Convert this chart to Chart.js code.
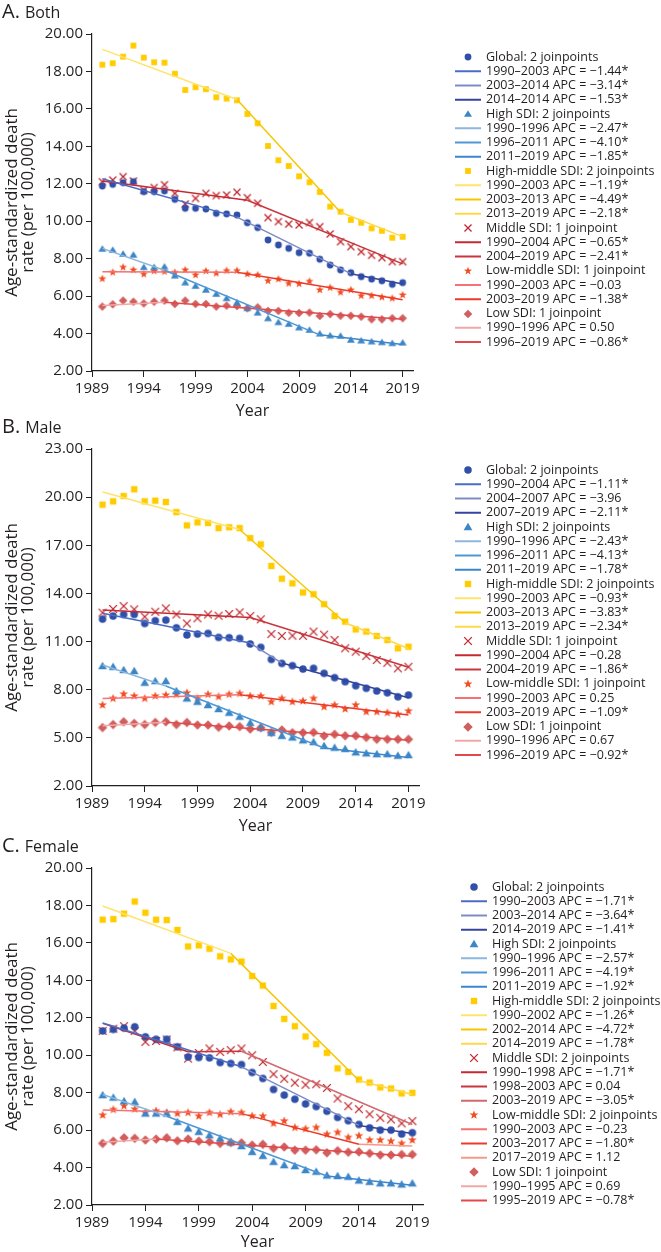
<!DOCTYPE html>
<html>
<head>
<meta charset="utf-8">
<script src="https://cdn.jsdelivr.net/npm/chart.js@4.4.1/dist/chart.umd.min.js"></script>
<style>
html, body { margin: 0; padding: 0; background: #fff; }
#wrap { position: relative; width: 661px; height: 1252px; overflow: hidden; }
.panel { position: absolute; left: 0; }
</style>
</head>
<body>
<div id="wrap">
  <canvas id="chartA" class="panel" style="top:0" width="661" height="421"></canvas>
  <canvas id="chartB" class="panel" style="top:400px" width="661" height="436"></canvas>
  <canvas id="chartC" class="panel" style="top:820px" width="661" height="432"></canvas>
</div>
<script>
// years and axis ticks
const years = [1990, 1991, 1992, 1993, 1994, 1995, 1996, 1997, 1998, 1999,
               2000, 2001, 2002, 2003, 2004, 2005, 2006, 2007, 2008, 2009,
               2010, 2011, 2012, 2013, 2014, 2015, 2016, 2017, 2018, 2019];
const xTicks = [1989, 1994, 1999, 2004, 2009, 2014, 2019];
const seriesNames = ['Global', 'High SDI', 'High-middle SDI', 'Middle SDI', 'Low-middle SDI', 'Low SDI'];

// ---- A. Both ----
const bothGlobal = [11.88, 11.97, 12.06, 12.11, 11.58, 11.58, 11.62, 11.17, 10.69, 10.69,
                    10.65, 10.42, 10.39, 10.33, 9.92, 9.66, 9.00, 8.73, 8.55, 8.32,
                    8.29, 7.97, 7.66, 7.40, 7.25, 7.04, 6.91, 6.82, 6.63, 6.72];
const bothHigh = [8.52, 8.46, 8.25, 8.20, 7.54, 7.54, 7.57, 7.09, 6.72, 6.54,
                  6.33, 6.11, 5.88, 5.65, 5.35, 5.11, 4.81, 4.60, 4.51, 4.32,
                  4.19, 3.99, 3.89, 3.87, 3.66, 3.62, 3.57, 3.53, 3.48, 3.51];
const bothHighMid = [18.36, 18.44, 18.79, 19.38, 18.74, 18.49, 18.47, 17.88, 17.01, 17.16,
                     17.05, 16.62, 16.55, 16.46, 15.73, 15.23, 14.02, 13.26, 12.95, 12.40,
                     12.08, 11.56, 10.78, 10.51, 10.07, 9.92, 9.62, 9.49, 9.12, 9.17];
const bothMiddle = [12.11, 12.20, 12.38, 12.15, 11.65, 11.80, 11.95, 11.49, 10.92, 11.22,
                    11.49, 11.37, 11.40, 11.55, 11.26, 10.96, 10.19, 9.98, 9.85, 9.80,
                    9.93, 9.71, 9.32, 8.91, 8.64, 8.37, 8.18, 8.05, 7.84, 7.84];
const bothLowMid = [6.93, 7.27, 7.54, 7.40, 7.17, 7.34, 7.31, 7.26, 7.40, 7.13,
                    7.34, 7.22, 7.36, 7.36, 7.18, 7.13, 6.82, 6.91, 6.68, 6.66,
                    6.79, 6.33, 6.45, 6.20, 6.33, 6.02, 6.02, 5.94, 5.88, 6.06];
const bothLow = [5.44, 5.56, 5.76, 5.70, 5.61, 5.70, 5.76, 5.58, 5.76, 5.58,
                 5.58, 5.44, 5.49, 5.47, 5.35, 5.40, 5.21, 5.21, 5.11, 5.10,
                 5.12, 4.94, 5.04, 4.95, 4.95, 4.90, 4.76, 4.76, 4.82, 4.82];
const bothJoinYears = [[1990, 2003, 2014, 2019], [1990, 1996, 2011, 2019], [1990, 2003, 2013, 2019],
                       [1990, 2004, 2019], [1990, 2003, 2019], [1990, 1996, 2019]];
const bothJoinVals = [[12.27, 10.22, 7.20, 6.65], [8.55, 7.38, 3.93, 3.42], [19.18, 16.50, 10.48, 9.18],
                      [12.15, 11.12, 7.72], [7.30, 7.27, 5.80], [5.50, 5.67, 4.77]];
const bothHeaders = ['Global: 2 joinpoints', 'High SDI: 2 joinpoints', 'High-middle SDI: 2 joinpoints',
                     'Middle SDI: 1 joinpoint', 'Low-middle SDI: 1 joinpoint', 'Low SDI: 1 joinpoint'];
const bothSegLabels = [
  ['1990–2003 APC = −1.44*', '2003–2014 APC = −3.14*', '2014–2014 APC = −1.53*'],
  ['1990–1996 APC = −2.47*', '1996–2011 APC = −4.10*', '2011–2019 APC = −1.85*'],
  ['1990–2003 APC = −1.19*', '2003–2013 APC = −4.49*', '2013–2019 APC = −2.18*'],
  ['1990–2004 APC = −0.65*', '2004–2019 APC = −2.41*'],
  ['1990–2003 APC = −0.03', '2003–2019 APC = −1.38*'],
  ['1990–1996 APC = 0.50', '1996–2019 APC = −0.86*']
];

// ---- B. Male ----
const maleGlobal = [12.40, 12.59, 12.69, 12.69, 12.13, 12.30, 12.34, 11.86, 11.41, 11.47,
                    11.51, 11.26, 11.24, 11.20, 10.85, 10.64, 9.89, 9.64, 9.50, 9.29,
                    9.33, 9.02, 8.75, 8.50, 8.25, 8.09, 7.92, 7.81, 7.56, 7.67];
const maleHigh = [9.48, 9.43, 9.23, 9.17, 8.44, 8.54, 8.54, 7.92, 7.46, 7.25,
                  7.05, 6.80, 6.57, 6.32, 5.94, 5.63, 5.32, 5.13, 5.03, 4.85,
                  4.74, 4.50, 4.39, 4.31, 4.10, 4.04, 3.99, 3.99, 3.89, 3.93];
const maleHighMid = [19.53, 19.74, 20.07, 20.49, 19.74, 19.78, 19.70, 19.07, 18.24, 18.43,
                     18.39, 18.07, 18.12, 18.07, 17.45, 17.06, 15.71, 14.92, 14.63, 14.06,
                     13.95, 13.33, 12.59, 12.24, 11.76, 11.62, 11.35, 11.10, 10.58, 10.68];
const maleMiddle = [12.80, 13.03, 13.21, 13.01, 12.55, 12.86, 13.07, 12.69, 12.13, 12.45,
                    12.69, 12.61, 12.72, 12.82, 12.59, 12.39, 11.47, 11.35, 11.37, 11.36,
                    11.62, 11.43, 11.10, 10.58, 10.37, 10.10, 9.85, 9.68, 9.33, 9.43];
const maleLowMid = [7.05, 7.46, 7.73, 7.61, 7.46, 7.61, 7.67, 7.71, 7.81, 7.46,
                    7.71, 7.57, 7.71, 7.77, 7.61, 7.61, 7.25, 7.46, 7.25, 7.30,
                    7.46, 6.94, 7.05, 6.80, 7.05, 6.63, 6.63, 6.57, 6.47, 6.67];
const maleLow = [5.64, 5.83, 6.00, 5.90, 5.83, 5.96, 6.00, 5.83, 5.96, 5.80,
                 5.80, 5.66, 5.74, 5.70, 5.55, 5.63, 5.34, 5.49, 5.32, 5.32,
                 5.34, 5.12, 5.22, 5.13, 5.13, 5.03, 4.91, 4.91, 4.91, 4.91];
const maleJoinYears = [[1990, 2004, 2007, 2019], [1990, 1996, 2011, 2019], [1990, 2003, 2013, 2019],
                       [1990, 2004, 2019], [1990, 2003, 2019], [1990, 1996, 2019]];
const maleJoinVals = [[12.76, 10.91, 9.66, 7.50], [9.54, 8.23, 4.37, 3.78], [20.32, 17.98, 12.17, 10.57],
                      [12.97, 12.50, 9.40], [7.45, 7.69, 6.43], [5.75, 5.98, 4.85]];
const maleHeaders = ['Global: 2 joinpoints', 'High SDI: 2 joinpoints', 'High-middle SDI: 2 joinpoints',
                     'Middle SDI: 1 joinpoint', 'Low-middle SDI: 1 joinpoint', 'Low SDI: 1 joinpoint'];
const maleSegLabels = [
  ['1990–2004 APC = −1.11*', '2004–2007 APC = −3.96', '2007–2019 APC = −2.11*'],
  ['1990–1996 APC = −2.43*', '1996–2011 APC = −4.13*', '2011–2019 APC = −1.78*'],
  ['1990–2003 APC = −0.93*', '2003–2013 APC = −3.83*', '2013–2019 APC = −2.34*'],
  ['1990–2004 APC = −0.28', '2004–2019 APC = −1.86*'],
  ['1990–2003 APC = 0.25', '2003–2019 APC = −1.09*'],
  ['1990–1996 APC = 0.67', '1996–2019 APC = −0.92*']
];

// ---- C. Female ----
const femaleGlobal = [11.30, 11.38, 11.45, 11.52, 10.98, 10.85, 10.85, 10.45, 9.91, 9.88,
                      9.86, 9.61, 9.56, 9.50, 9.08, 8.76, 8.17, 7.87, 7.65, 7.40,
                      7.26, 7.01, 6.68, 6.50, 6.30, 6.12, 6.00, 6.00, 5.79, 5.86];
const femaleHigh = [7.87, 7.74, 7.55, 7.51, 6.89, 6.89, 6.89, 6.44, 6.09, 5.91,
                    5.73, 5.56, 5.34, 5.15, 4.84, 4.63, 4.31, 4.13, 4.08, 3.87,
                    3.78, 3.58, 3.55, 3.51, 3.31, 3.24, 3.16, 3.16, 3.10, 3.16];
const femaleHighMid = [17.24, 17.27, 17.56, 18.21, 17.61, 17.24, 17.22, 16.69, 15.81, 15.87,
                       15.69, 15.28, 15.12, 15.00, 14.23, 13.72, 12.63, 11.94, 11.55, 11.00,
                       10.59, 10.13, 9.30, 9.11, 8.70, 8.54, 8.28, 8.22, 7.96, 7.99];
const femaleMiddle = [11.30, 11.42, 11.55, 11.30, 10.71, 10.76, 10.84, 10.42, 9.82, 10.12,
                      10.36, 10.18, 10.27, 10.36, 10.00, 9.64, 8.99, 8.74, 8.53, 8.42,
                      8.45, 8.25, 7.69, 7.28, 7.12, 6.85, 6.66, 6.57, 6.36, 6.48];
const femaleLowMid = [6.80, 7.10, 7.30, 7.12, 6.94, 7.03, 6.94, 6.89, 6.94, 6.75,
                      6.94, 6.84, 6.98, 6.94, 6.76, 6.75, 6.36, 6.49, 6.14, 6.07,
                      6.14, 5.78, 5.88, 5.61, 5.70, 5.47, 5.47, 5.41, 5.29, 5.47];
const femaleLow = [5.29, 5.41, 5.59, 5.56, 5.47, 5.52, 5.59, 5.43, 5.52, 5.41,
                   5.38, 5.29, 5.34, 5.32, 5.20, 5.24, 5.03, 5.10, 4.93, 4.93,
                   4.95, 4.79, 4.90, 4.82, 4.84, 4.76, 4.67, 4.67, 4.70, 4.70];
const femaleJoinYears = [[1990, 2003, 2014, 2019], [1990, 1996, 2011, 2019], [1990, 2002, 2014, 2019],
                         [1990, 1998, 2003, 2019], [1990, 2003, 2014, 2019], [1990, 1995, 2019]];
const femaleJoinVals = [[11.72, 9.38, 6.25, 5.82], [7.90, 6.74, 3.55, 3.05], [17.97, 15.44, 8.65, 7.90],
                        [11.70, 10.19, 10.21, 6.30], [7.07, 6.88, 5.25, 5.15], [5.35, 5.53, 4.60]];
const femaleHeaders = ['Global: 2 joinpoints', 'High SDI: 2 joinpoints', 'High-middle SDI: 2 joinpoints',
                       'Middle SDI: 2 joinpoints', 'Low-middle SDI: 2 joinpoints', 'Low SDI: 1 joinpoint'];
const femaleSegLabels = [
  ['1990–2003 APC = −1.71*', '2003–2014 APC = −3.64*', '2014–2019 APC = −1.41*'],
  ['1990–1996 APC = −2.57*', '1996–2011 APC = −4.19*', '2011–2019 APC = −1.92*'],
  ['1990–2002 APC = −1.26*', '2002–2014 APC = −4.72*', '2014–2019 APC = −1.78*'],
  ['1990–1998 APC = −1.71*', '1998–2003 APC = 0.04', '2003–2019 APC = −3.05*'],
  ['1990–2003 APC = −0.23', '2003–2017 APC = −1.80*', '2017–2019 APC = 1.12'],
  ['1990–1995 APC = 0.69', '1995–2019 APC = −0.78*']
];

// ---- styles ----
const FONT = "'Open Sans', 'Noto Sans', sans-serif";
const INK = '#231f20';
const markerShapes = ['circle', 'triangle', 'square', 'cross', 'star', 'diamond'];
const markerColors = ['#2f4fa9', '#3d86c6', '#ffcc00', '#c0272d', '#f04e23', '#d0605f'];
const segColors = [
  ['#4a6cc4', '#7d8cc6', '#34449c'],
  ['#8cb6de', '#4d97d6', '#3b86cc'],
  ['#ffe36a', '#f7c600', '#ffd84a'],
  ['#c52a33', '#c8353d', '#d06a6f'],
  ['#f47272', '#ec3b2a', '#f59a8a'],
  ['#f2a7a7', '#e3484a']
];

function markerImg(shape, color, s) {
  const c = document.createElement('canvas');
  const size = Math.ceil(12 * s) + 2;
  c.width = c.height = size;
  const g = c.getContext('2d');
  const m = size / 2;
  g.fillStyle = color;
  g.strokeStyle = color;
  g.beginPath();
  if (shape === 'circle') {
    g.arc(m, m, 3.4 * s, 0, Math.PI * 2); g.fill();
  } else if (shape === 'square') {
    const h = 2.9 * s; g.fillRect(m - h, m - h, 2 * h, 2 * h);
  } else if (shape === 'triangle') {
    const h = 3.8 * s;
    g.moveTo(m, m - h); g.lineTo(m + h * 1.05, m + h * 0.75); g.lineTo(m - h * 1.05, m + h * 0.75);
    g.closePath(); g.fill();
  } else if (shape === 'diamond') {
    const h = 4.3 * s;
    g.moveTo(m, m - h); g.lineTo(m + h, m); g.lineTo(m, m + h); g.lineTo(m - h, m);
    g.closePath(); g.fill();
  } else if (shape === 'cross') {
    const h = 3.5 * s; g.lineWidth = 1.3;
    g.moveTo(m - h, m - h); g.lineTo(m + h, m + h); g.moveTo(m + h, m - h); g.lineTo(m - h, m + h);
    g.stroke();
  } else if (shape === 'star') {
    const R = 4.2 * s, r = R * 0.42;
    for (let k = 0; k < 10; k++) {
      const a = -Math.PI / 2 + k * Math.PI / 5;
      const rr = k % 2 ? r : R;
      g.lineTo(m + rr * Math.cos(a), m + rr * Math.sin(a));
    }
    g.closePath(); g.fill();
  }
  return c;
}

function buildDatasets(values, joinYears, joinVals, headers, segLabels, scale) {
  const ds = [];
  values.forEach((vals, s) => {
    ds.push({
      label: headers[s],
      data: years.map((yr, i) => ({ x: yr, y: vals[i] })),
      showLine: false,
      pointStyle: markerImg(markerShapes[s], markerColors[s], scale),
      pointRadius: 4,
      order: 2
    });
    for (let k = 0; k < joinYears[s].length - 1; k++) {
      ds.push({
        label: segLabels[s][k],
        data: [{ x: joinYears[s][k], y: joinVals[s][k] }, { x: joinYears[s][k + 1], y: joinVals[s][k + 1] }],
        showLine: true,
        borderColor: segColors[s][k],
        borderWidth: 1.5,
        pointRadius: 0,
        order: 1
      });
    }
  });
  return ds;
}

// panel title + side legend
const panelDecor = {
  id: 'panelDecor',
  afterDraw(chart, args, opts) {
    const ctx = chart.ctx;
    ctx.save();
    ctx.fillStyle = INK;
    ctx.textBaseline = 'alphabetic';
    ctx.font = `20px ${FONT}`;
    ctx.fillText(opts.letter, 2, opts.titleY);
    const w = ctx.measureText(opts.letter).width;
    ctx.font = `16px ${FONT}`;
    ctx.fillText(opts.name, 2 + w + 5, opts.titleY);

    ctx.font = `12.5px ${FONT}`;
    ctx.textBaseline = 'middle';
    chart.data.datasets.forEach((ds, i) => {
      const y = opts.legendTop + i * opts.rowH;
      const x = opts.legendX;
      if (ds.showLine === false) {
        const img = ds.pointStyle;
        ctx.drawImage(img, Math.round(x + 13 - img.width / 2), Math.round(y - img.height / 2));
      } else {
        ctx.strokeStyle = ds.borderColor;
        ctx.lineWidth = 2;
        ctx.beginPath(); ctx.moveTo(x, y); ctx.lineTo(x + 26, y); ctx.stroke();
      }
      ctx.fillStyle = INK;
      ctx.fillText(ds.label, x + 31, y);
    });
    ctx.restore();
  }
};

function makePanel(id, p) {
  new Chart(document.getElementById(id), {
    type: 'scatter',
    data: { datasets: buildDatasets(p.values, p.joinYears, p.joinVals, p.headers, p.segLabels, p.markerScale) },
    options: {
      responsive: false,
      animation: false,
      events: [],
      layout: { padding: { left: 0, top: p.padTop, right: p.padRight, bottom: 0 } },
      plugins: {
        legend: { display: false },
        tooltip: { enabled: false },
        panelDecor: { letter: p.letter, name: p.name, titleY: p.titleY,
                      legendX: p.legendX, legendTop: p.legendTop, rowH: 14.25 }
      },
      scales: {
        x: {
          type: 'linear', min: 1989, max: 2020,
          afterBuildTicks: s => { s.ticks = xTicks.map(v => ({ value: v })); },
          afterFit: s => { s.height = p.xHeight; },
          grid: { drawOnChartArea: false, tickLength: 6, color: INK, tickColor: INK },
          border: { color: INK, width: 1.2 },
          ticks: { font: { family: FONT, size: 15 }, color: INK, padding: 3, maxRotation: 0,
                   autoSkip: false, callback: v => String(v) },
          title: { display: true, text: 'Year', font: { family: FONT, size: 16 }, color: INK,
                   padding: { top: 0, bottom: 0 } }
        },
        y: {
          type: 'linear', min: 2, max: p.yMax,
          afterFit: s => { s.width = 92; },
          grid: { drawOnChartArea: false, tickLength: 6, color: INK, tickColor: INK },
          border: { color: INK, width: 1.2 },
          ticks: { stepSize: p.yStep, font: { family: FONT, size: 15 }, color: INK, padding: 3,
                   callback: v => v.toFixed(2) },
          title: { display: true, text: ['Age-standardized death', 'rate (per 100,000)'],
                   font: { family: FONT, size: 17, lineHeight: '16px' }, color: INK,
                   padding: { top: 4, bottom: 0 } }
        }
      }
    },
    plugins: [panelDecor]
  });
}

makePanel('chartA', {
  values: [bothGlobal, bothHigh, bothHighMid, bothMiddle, bothLowMid, bothLow],
  joinYears: bothJoinYears, joinVals: bothJoinVals, headers: bothHeaders, segLabels: bothSegLabels,
  letter: 'A.', name: 'Both', titleY: 18, padTop: 34, padRight: 248, xHeight: 50,
  yMax: 20, yStep: 2, legendX: 455, legendTop: 57, markerScale: 1.0
});
makePanel('chartB', {
  values: [maleGlobal, maleHigh, maleHighMid, maleMiddle, maleLowMid, maleLow],
  joinYears: maleJoinYears, joinVals: maleJoinVals, headers: maleHeaders, segLabels: maleSegLabels,
  letter: 'B.', name: 'Male', titleY: 33, padTop: 49, padRight: 242, xHeight: 50,
  yMax: 23, yStep: 3, legendX: 455, legendTop: 70, markerScale: 1.1
});
makePanel('chartC', {
  values: [femaleGlobal, femaleHigh, femaleHighMid, femaleMiddle, femaleLowMid, femaleLow],
  joinYears: femaleJoinYears, joinVals: femaleJoinVals, headers: femaleHeaders, segLabels: femaleSegLabels,
  letter: 'C.', name: 'Female', titleY: 32, padTop: 48, padRight: 238, xHeight: 47,
  yMax: 20, yStep: 2, legendX: 461, legendTop: 67, markerScale: 1.1
});
</script>
</body>
</html>
